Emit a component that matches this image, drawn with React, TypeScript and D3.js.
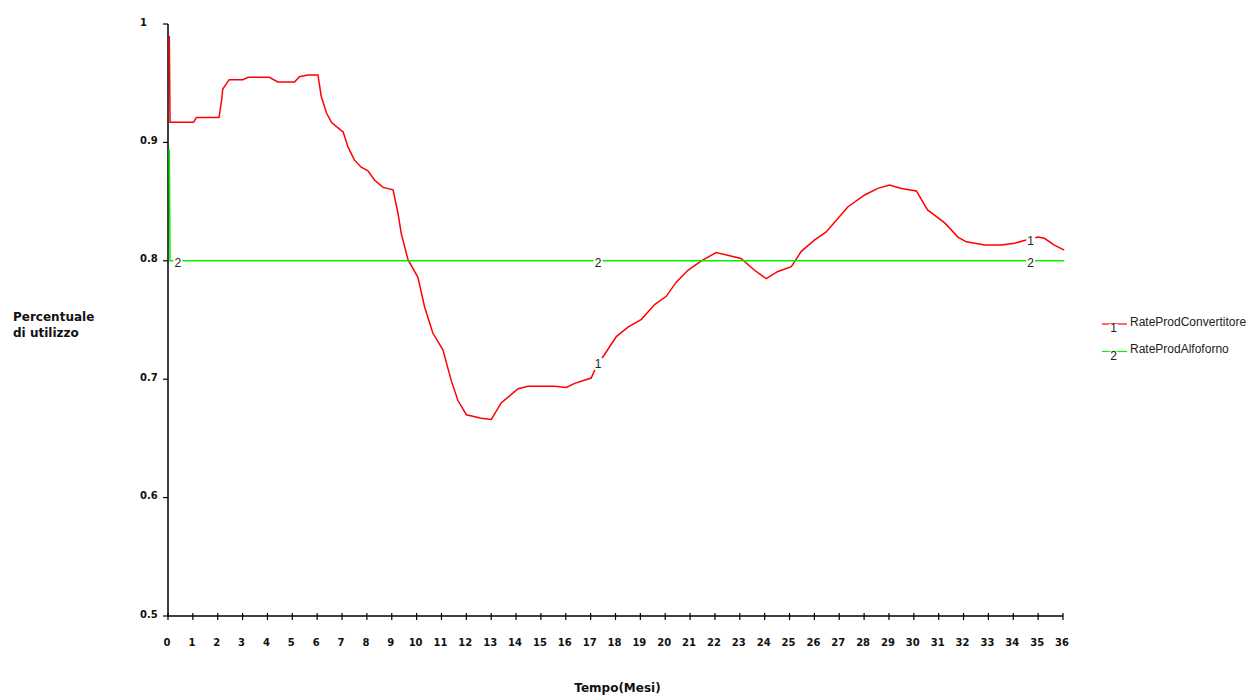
import { useEffect, useRef } from "react";
import * as d3 from "d3";

// Time in months / utilisation values
const redTime = [
  0, 0.03, 0.98, 1.09, 2.0, 2.1, 2.15, 2.41, 2.96, 3.17, 4.02, 4.37, 5.04, 5.23, 5.58, 5.98,
  6.11, 6.32, 6.52, 6.92, 6.99, 7.19, 7.45, 7.72, 7.99, 8.26, 8.6, 9.0, 9.2, 9.33, 9.6, 10.0,
  10.27, 10.6, 11.0, 11.34, 11.61, 11.95, 12.55, 12.95, 13.35, 14.03, 14.43, 15.5, 15.97, 16.3,
  16.97, 17.18, 17.48, 17.98, 18.45, 18.99, 19.52, 19.99, 20.39, 20.86, 21.4, 22.0, 23.0, 23.54,
  24.01, 24.48, 25.02, 25.42, 25.96, 26.4, 26.9, 27.3, 27.97, 28.5, 28.97, 29.45, 30.05, 30.5,
  31.19, 31.72, 32.06, 32.8, 33.47, 34.0, 34.47, 34.94, 35.2, 35.6, 36.0,
];
const redValue = [
  0.99, 0.917, 0.917, 0.921, 0.921, 0.935, 0.945, 0.953, 0.953, 0.955, 0.955, 0.951, 0.951, 0.9555, 0.957, 0.957,
  0.939, 0.925, 0.917, 0.91, 0.909, 0.896, 0.885, 0.879, 0.876, 0.868, 0.862, 0.86, 0.84, 0.823, 0.801, 0.786,
  0.761, 0.739, 0.725, 0.699, 0.682, 0.67, 0.667, 0.666, 0.68, 0.692, 0.694, 0.694, 0.693, 0.6965,
  0.701, 0.711, 0.72, 0.736, 0.744, 0.7506, 0.763, 0.77, 0.782, 0.792, 0.8, 0.807, 0.802, 0.792,
  0.785, 0.791, 0.795, 0.808, 0.8176, 0.824, 0.836, 0.8457, 0.8556, 0.8612, 0.864, 0.861, 0.859, 0.843,
  0.832, 0.82, 0.816, 0.8133, 0.8133, 0.8148, 0.8176, 0.82, 0.819, 0.8133, 0.809,
];
const greenTime = [0, 0.03, 36];
const greenValue = [0.894, 0.8, 0.8];

const xTicks = d3.range(0, 37);
const yTicks = [0.5, 0.6, 0.7, 0.8, 0.9, 1];
const redLabelTimes = [17.3, 34.7];
const greenLabelTimes = [0.4, 17.3, 34.7];

const series = [
  { name: "RateProdConvertitore", id: "1", color: "#ff0000", time: redTime, value: redValue, labels: redLabelTimes },
  { name: "RateProdAlfoforno", id: "2", color: "#00f000", time: greenTime, value: greenValue, labels: greenLabelTimes },
];

export default function App() {
  const svgRef = useRef<SVGSVGElement>(null);

  useEffect(() => {
    if (!svgRef.current) return;
    const W = 1255;
    const H = 695;
    const margin = { top: 24, right: 192, bottom: 79, left: 168 };
    const width = W - margin.left - margin.right;
    const height = H - margin.top - margin.bottom;

    const svg = d3.select(svgRef.current).attr("width", W).attr("height", H);
    svg.selectAll("*").remove();

    const g = svg.append("g").attr("transform", `translate(${margin.left},${margin.top})`);

    const xScale = d3.scaleLinear().domain([0, 36]).range([0, width]);
    const yScale = d3.scaleLinear().domain([0.5, 1]).range([height, 0]);

    const tickFont = "'DejaVu Sans', sans-serif";

    // Lines (drawn a hair right of the axis, as in the original plot)
    const line = d3
      .line<[number, number]>()
      .x((d) => xScale(d[0]) + 1.3)
      .y((d) => yScale(d[1]));

    // Y axis
    g.append("line")
      .attr("x1", 0).attr("x2", 0)
      .attr("y1", 0).attr("y2", height)
      .attr("stroke", "#000").attr("stroke-width", 1.5);

    series.forEach((s) => {
      const pts = s.time.map((t, i) => [t, s.value[i]] as [number, number]);
      g.append("path")
        .attr("d", line(pts))
        .attr("fill", "none")
        .attr("stroke", s.color)
        .attr("stroke-width", 1.5);
    });

    // Series number labels on the lines
    series.forEach((s) => {
      s.labels.forEach((t) => {
        const v = d3.scaleLinear().domain(s.time).range(s.value)(t);
        const cx = xScale(t);
        const cy = yScale(v) + 2;
        g.append("rect")
          .attr("x", cx - 4.5)
          .attr("y", cy - 6)
          .attr("width", 9)
          .attr("height", 12)
          .attr("fill", "#fff");
        g.append("text")
          .attr("x", cx)
          .attr("y", cy)
          .attr("text-anchor", "middle")
          .attr("dominant-baseline", "central")
          .style("font-family", "'Liberation Sans', Arial, sans-serif")
          .style("font-size", "12px")
          .attr("fill", "#222")
          .text(s.id);
      });
    });

    yTicks.forEach((v) => {
      const y = yScale(v);
      g.append("line")
        .attr("x1", -5).attr("x2", 0)
        .attr("y1", y).attr("y2", y)
        .attr("stroke", "#000").attr("stroke-width", 1.2);
      g.append("text")
        .attr("x", -28)
        .attr("y", y - 2)
        .attr("dominant-baseline", "central")
        .style("font-family", tickFont)
        .style("font-size", "10px")
        .style("font-weight", "bold")
        .attr("fill", "#111")
        .text(d3.format("")(v));
    });

    // X axis
    g.append("line")
      .attr("x1", 0).attr("x2", width)
      .attr("y1", height).attr("y2", height)
      .attr("stroke", "#000").attr("stroke-width", 1.5);
    xTicks.forEach((t) => {
      const x = xScale(t);
      g.append("line")
        .attr("x1", x).attr("x2", x)
        .attr("y1", height - 3).attr("y2", height + 4)
        .attr("stroke", "#000").attr("stroke-width", 1.2);
      g.append("text")
        .attr("x", x - 1)
        .attr("y", height + 26)
        .attr("text-anchor", "middle")
        .attr("dominant-baseline", "central")
        .style("font-family", tickFont)
        .style("font-size", "10px")
        .style("font-weight", "bold")
        .attr("fill", "#111")
        .text(t);
    });

    // Axis titles
    svg.append("text")
      .attr("x", margin.left + width / 2 + 2)
      .attr("y", 688)
      .attr("text-anchor", "middle")
      .attr("dominant-baseline", "central")
      .style("font-family", tickFont)
      .style("font-size", "12px")
      .style("font-weight", "bold")
      .attr("fill", "#111")
      .text("Tempo(Mesi)");

    const yTitle = svg.append("text")
      .style("font-family", tickFont)
      .style("font-size", "12px")
      .style("font-weight", "bold")
      .attr("fill", "#111");
    yTitle.append("tspan").attr("x", 13).attr("y", 321).text("Percentuale");
    yTitle.append("tspan").attr("x", 13).attr("y", 337).text("di utilizzo");

    // Legend
    const legend = svg.append("g").attr("transform", "translate(1102,324)");
    series.forEach((s, i) => {
      const row = legend.append("g").attr("transform", `translate(0,${i * 27.5})`);
      row.append("line")
        .attr("x1", 0).attr("x2", 25)
        .attr("y1", 0).attr("y2", 0)
        .attr("stroke", s.color).attr("stroke-width", 1.2);
      row.append("rect").attr("x", 7).attr("y", 0).attr("width", 9).attr("height", 3).attr("fill", "#fff");
      row.append("text")
        .attr("x", 11.5)
        .attr("y", 4)
        .attr("text-anchor", "middle")
        .attr("dominant-baseline", "central")
        .style("font-family", "'Liberation Sans', Arial, sans-serif")
        .style("font-size", "12px")
        .attr("fill", "#222")
        .text(s.id);
      row.append("text")
        .attr("x", 28)
        .attr("y", -2.5)
        .attr("dominant-baseline", "central")
        .style("font-family", "'Liberation Sans', Arial, sans-serif")
        .style("font-size", "12px")
        .attr("fill", "#222")
        .text(s.name);
    });
  }, []);

  return (
    <div style={{ position: "absolute", left: 0, top: 0, background: "#fff" }}>
      <svg ref={svgRef} style={{ display: "block" }} />
    </div>
  );
}
